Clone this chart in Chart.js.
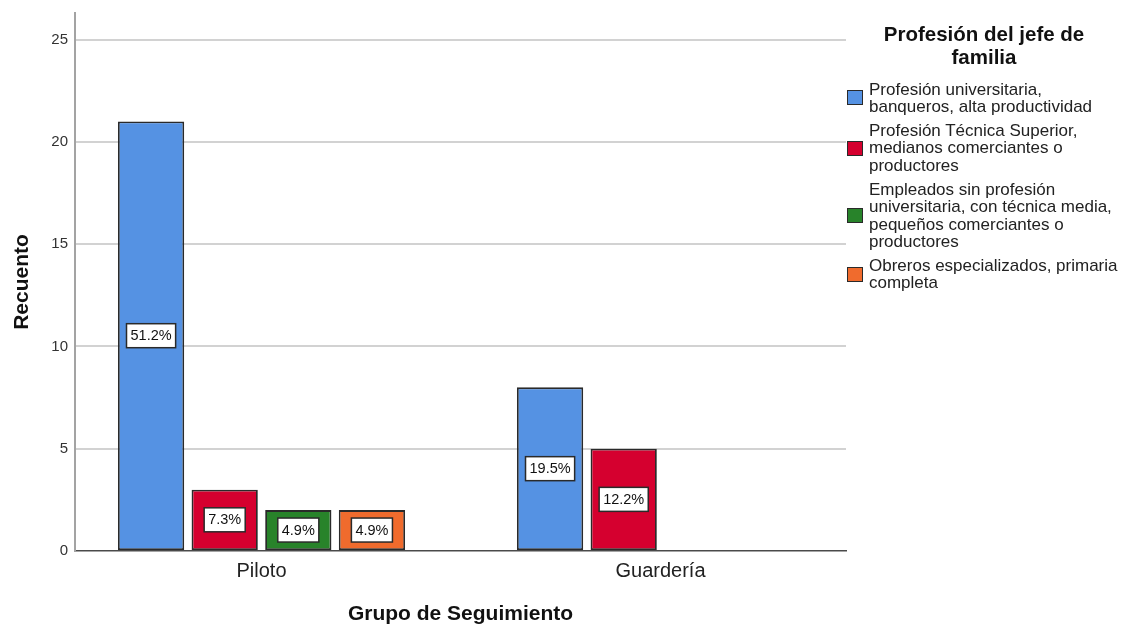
<!DOCTYPE html>
<html>
<head>
<meta charset="utf-8">
<script src="https://cdn.jsdelivr.net/npm/chart.js@4.4.1/dist/chart.umd.min.js"></script>
<style>
  html, body { margin: 0; padding: 0; background: #fff; overflow: hidden; }
  #wrap { position: relative; width: 1125px; height: 627px; overflow: hidden; }
  #c { position: absolute; left: 0; top: 0; }
  #legend { position: absolute; left: 846px; top: 0; width: 279px; height: 627px;
            font-family: "Liberation Sans", Arial, sans-serif; color: #111; }
  #legend .ltitle { position: absolute; left: 23px; top: 21.5px; width: 230px; text-align: center;
            font-weight: bold; font-size: 20.5px; line-height: 23px; }
  #legend .items { position: absolute; left: 1px; top: 80.5px; }
  #legend .item { display: flex; align-items: center; margin-bottom: 7px; }
  #legend .sw { width: 16px; height: 15px; box-sizing: border-box; border: 1.5px solid #2a2a2a;
            margin-right: 6px; flex: none; }
  #legend .txt { white-space: pre; font-size: 17px; line-height: 17.3px; color: #222; }
</style>
</head>
<body>
<div id="wrap">
  <canvas id="c" width="1125" height="627"></canvas>
  <div id="legend">
    <div class="ltitle" id="ltitle"></div>
    <div class="items" id="litems"></div>
  </div>
</div>
<script>
// ---- data ----
const categories = ['Piloto', 'Guardería'];
const seriesNames = [
  'Profesión universitaria,\nbanqueros, alta productividad',
  'Profesión Técnica Superior,\nmedianos comerciantes o\nproductores',
  'Empleados sin profesión\nuniversitaria, con técnica media,\npequeños comerciantes o\nproductores',
  'Obreros especializados, primaria\ncompleta'
];
const universitaria   = [21, 8];
const tecnicaSuperior = [3, 5];
const empleados       = [2, null];
const obreros         = [2, null];
const yTicks = [0, 5, 10, 15, 20, 25];
const legendTitle = 'Profesión del jefe de familia';
const xTitle = 'Grupo de Seguimiento';
const yTitle = 'Recuento';

// ---- style ----
const colors = ['#5592E3', '#D5002F', '#28832A', '#F06B2D'];
const FONT = '"Liberation Sans", Arial, sans-serif';

const seriesValues = [universitaria, tecnicaSuperior, empleados, obreros];
const total = seriesValues.flat().reduce((a, b) => a + (b || 0), 0);

const datasets = seriesValues.map((vals, si) => ({
  label: seriesNames[si],
  data: categories.map((c, i) => ({ x: i, y: vals[i] })),
  backgroundColor: colors[si],
  borderColor: '#2a2a2a',
  borderWidth: 1.8,
  borderSkipped: false,
  categoryPercentage: 0.738,
  barPercentage: 0.9
}));

const pctLabels = {
  id: 'pctLabels',
  afterDatasetsDraw(chart) {
    const ctx = chart.ctx;
    ctx.save();
    ctx.font = '14.5px ' + FONT;
    ctx.textAlign = 'center';
    ctx.textBaseline = 'middle';
    chart.data.datasets.forEach((ds, di) => {
      const meta = chart.getDatasetMeta(di);
      meta.data.forEach((bar, j) => {
        const v = ds.data[j].y;
        if (v == null) return;
        const txt = (v / total * 100).toFixed(1) + '%';
        const cx = bar.x, cy = (bar.y + bar.base) / 2;
        const w = ctx.measureText(txt).width + 8, h = 24;
        ctx.fillStyle = '#fff';
        ctx.fillRect(cx - w / 2, cy - h / 2, w, h);
        ctx.lineWidth = 1.5;
        ctx.strokeStyle = '#2a2a2a';
        ctx.strokeRect(cx - w / 2, cy - h / 2, w, h);
        ctx.fillStyle = '#111';
        ctx.fillText(txt, cx, cy + 0.5);
      });
    });
    ctx.restore();
  }
};

new Chart(document.getElementById('c'), {
  type: 'bar',
  data: { datasets },
  plugins: [pctLabels],
  options: {
    responsive: false,
    animation: false,
    devicePixelRatio: 1,
    layout: { padding: { top: 13, right: 279, left: 0, bottom: 0 } },
    plugins: { legend: { display: false }, tooltip: { enabled: false } },
    scales: {
      x: {
        type: 'linear',
        offset: false,
        min: -0.4674,
        max: 1.4649,
        afterBuildTicks: (s) => { s.ticks = categories.map((c, i) => ({ value: i })); },
        afterFit: (s) => { s.height = 76; s.paddingLeft = 0; s.paddingRight = 0; },
        grid: { display: false, drawTicks: false },
        border: { display: true, color: '#4a4a4a', width: 1.5 },
        ticks: {
          callback: (v) => categories[v] ?? '',
          color: '#222',
          font: { family: FONT, size: 20 },
          padding: 8,
          maxRotation: 0,
          autoSkip: false
        },
        title: {
          display: true, text: xTitle, color: '#111',
          font: { family: FONT, size: 21, weight: 'bold' },
          padding: { top: 0, bottom: 0 }
        }
      },
      y: {
        min: 0,
        max: 26.3,
        afterBuildTicks: (s) => { s.ticks = yTicks.map(v => ({ value: v })); },
        afterFit: (s) => { s.width = 75; s.paddingTop = 0; s.paddingBottom = 0; },
        grid: {
          drawTicks: false,
          lineWidth: 2,
          color: (c) => (c.tick && c.tick.value === 0) ? 'rgba(0,0,0,0)' : '#d2d2d2'
        },
        border: { display: true, color: '#a3a3a3', width: 2 },
        ticks: {
          color: '#333',
          font: { family: FONT, size: 15 },
          padding: 7
        },
        title: {
          display: true, text: yTitle, color: '#111',
          font: { family: FONT, size: 21, weight: 'bold' },
          padding: { top: 10, bottom: 0 }
        }
      }
    }
  }
});

// ---- HTML legend built from the data arrays ----
document.getElementById('ltitle').textContent = legendTitle;
const litems = document.getElementById('litems');
seriesNames.forEach((name, i) => {
  const item = document.createElement('div');
  item.className = 'item';
  const sw = document.createElement('div');
  sw.className = 'sw';
  sw.style.background = colors[i];
  const t = document.createElement('div');
  t.className = 'txt';
  t.textContent = name;
  item.appendChild(sw);
  item.appendChild(t);
  litems.appendChild(item);
});
</script>
</body>
</html>
